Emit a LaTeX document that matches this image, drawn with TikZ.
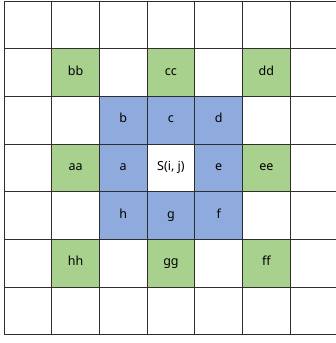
\documentclass[tikz,border=0pt]{standalone}
\usepackage{fontspec}
\setmainfont{Noto Sans}
\definecolor{cgreen}{HTML}{A9D18E}
\definecolor{cblue}{HTML}{8FAADC}
\definecolor{gline}{HTML}{2E2E2E}
\tikzset{
  cell/.style={draw=gline, line width=1pt, minimum size=47.7pt, inner sep=0pt, anchor=north west,
    text height=0.72em, text depth=0.22em, font=\fontsize{12.5}{14}\selectfont},
  gcell/.style={cell, fill=cgreen},
  bcell/.style={cell, fill=cblue},
}
\begin{document}
\begin{tikzpicture}[x=1pt,y=-1pt]
\useasboundingbox (0,0) rectangle (336,343);
\clip (0,0) rectangle (336,343);
\foreach \r in {0,...,6}{
  \foreach \c in {0,...,6}{
    \node[cell] (cell-\r-\c) at ({3.5+\c*47.7},{0.5+\r*47.7}) {};
  }
}
\newcommand{\pos}[2]{({3.5+#2*47.7},{0.5+#1*47.7})}
\node[gcell] (bb) at \pos{1}{1} {bb};
\node[gcell] (cc) at \pos{1}{3} {cc};
\node[gcell] (dd) at \pos{1}{5} {dd};
\node[gcell] (aa) at \pos{3}{1} {aa};
\node[gcell] (ee) at \pos{3}{5} {ee};
\node[gcell] (hh) at \pos{5}{1} {hh};
\node[gcell] (gg) at \pos{5}{3} {gg};
\node[gcell] (ff) at \pos{5}{5} {ff};
\node[bcell] (b) at \pos{2}{2} {b};
\node[bcell] (c) at \pos{2}{3} {c};
\node[bcell] (d) at \pos{2}{4} {d};
\node[bcell] (a) at \pos{3}{2} {a};
\node[cell, fill=white] (s) at \pos{3}{3} {S(i, j)};
\node[bcell] (e) at \pos{3}{4} {e};
\node[bcell] (h) at \pos{4}{2} {h};
\node[bcell] (g) at \pos{4}{3} {g};
\node[bcell] (f) at \pos{4}{4} {f};
\end{tikzpicture}
\end{document}
